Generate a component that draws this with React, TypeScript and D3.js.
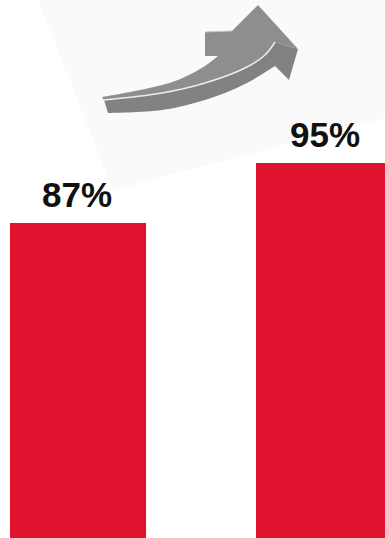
import React from "react";
import * as d3 from "d3";

const categories = ["Before", "After"];
const values = [87, 95];
const labels = ["87%", "95%"];

const W = 385;
const H = 538;

export default function App() {
  const x = d3
    .scaleBand<string>()
    .domain(categories)
    .range([10, 392])
    .paddingInner(0.447)
    .paddingOuter(0);
  const y = d3.scaleLinear().domain([45, 100]).range([H, H - 55 * 7.5]);

  const line = d3.line().curve(d3.curveCatmullRom.alpha(0.5));

  // arrow shapes (decorative)
  const highlight: [number, number][] = [
    [275, 42],
    [265, 55],
    [245, 68],
    [205, 83],
    [162, 93],
    [104, 100],
  ];
  const lowerEdge: [number, number][] = [
    [108, 113],
    [162, 110],
    [205, 100],
    [245, 84],
    [275, 66],
  ];
  const upperEdge: [number, number][] = [
    [102, 97],
    [145, 89],
    [178, 80],
    [205, 66],
    [218, 56],
  ];

  const frontPath =
    line(upperEdge)! +
    "L205,56L205,32L232,31L258,5L298,49L275,42" +
    line(highlight)!.replace(/^M/, "L") +
    "Z";
  const sidePath =
    "M275,42L298,49L289,80L276,67" +
    line(lowerEdge.slice().reverse())!.replace(/^M/, "L") +
    "L104,100" +
    line(highlight.slice().reverse())!.replace(/^M/, "L") +
    "Z";

  return (
    <svg
      width={W}
      height={H}
      style={{ position: "absolute", left: 0, top: 0, background: "#fff" }}
    >
      <polygon points="38,0 113,190 385,118 385,0" fill="#fafafa" />
      <path d={sidePath} fill="#828282" />
      <path d={frontPath} fill="#8e8e8e" />
      <path
        d={line(highlight)!}
        fill="none"
        stroke="#ececec"
        strokeWidth={1.5}
      />
      <path d="M205,32L232,31" stroke="#c4c4c4" strokeWidth={1.2} fill="none" />
      {categories.map((c, i) => (
        <g key={c}>
          <rect
            x={x(c)}
            y={y(values[i])}
            width={x.bandwidth()}
            height={H - y(values[i])}
            fill="#E1142F"
          />
          <text
            x={x(c)! + x.bandwidth() / 2 - (i === 1 ? -1 : 1)}
            y={y(values[i]) - 16}
            textAnchor="middle"
            fontFamily="'Liberation Sans', Arial, sans-serif"
            fontWeight="bold"
            fontSize={35}
            fill="#111"
          >
            {labels[i]}
          </text>
        </g>
      ))}
    </svg>
  );
}
